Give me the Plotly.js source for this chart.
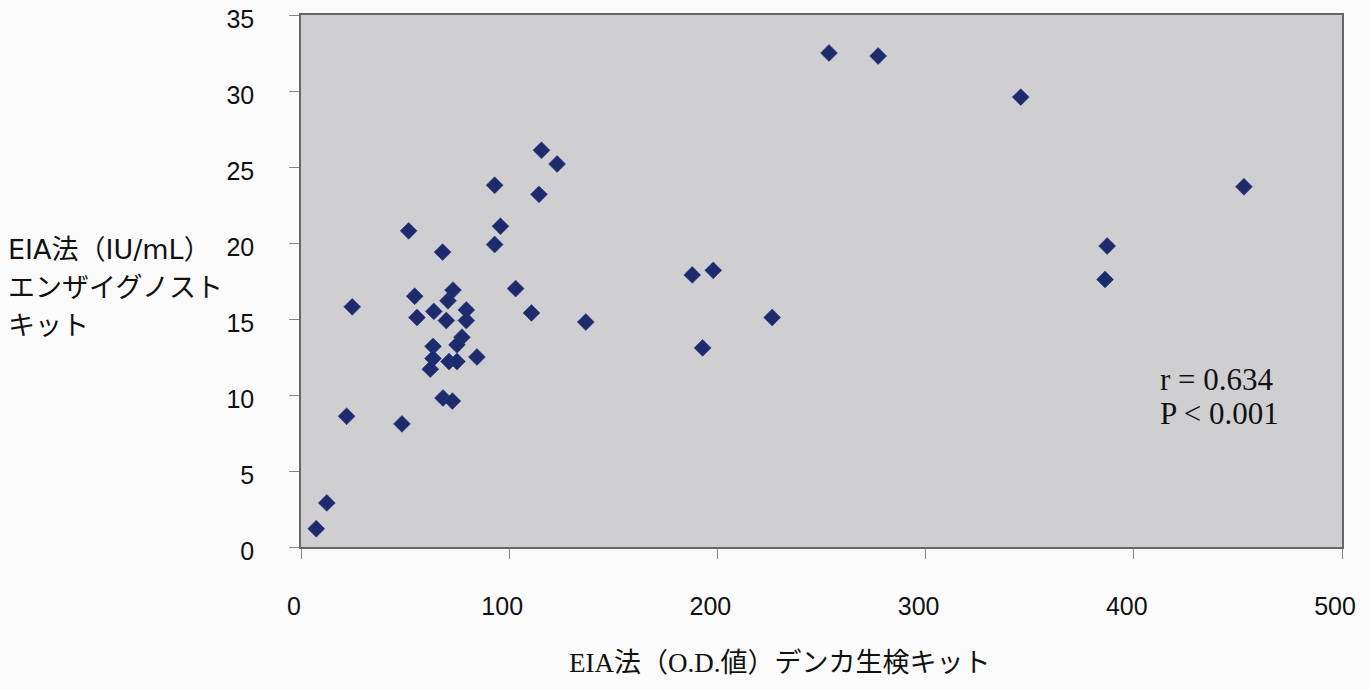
<!DOCTYPE html>
<html>
<head>
<meta charset="utf-8">
<script src="https://cdn.plot.ly/plotly-3.0.1.min.js"></script>
<style>
  html, body { margin: 0; padding: 0; background: #fcfbfb; }
  #chart { width: 1370px; height: 690px; }
</style>
</head>
<body>
<div id="chart"></div>
<script>
// EIA法 (O.D.値) デンカ生検キット
const denkaOD = [
  7.3, 12.4, 21.9, 48.5, 24.6, 51.7, 54.6, 55.7, 63.8, 69.8,
  68.0, 70.6, 73.0, 79.4, 79.4, 77.3, 74.9, 63.4, 63.4, 71.1,
  74.9, 84.5, 62.1, 68.2, 72.7, 93.0, 95.8, 93.0, 103.1, 110.7,
  114.3, 115.5, 123.0, 136.8, 187.9, 198.0, 192.9, 226.3, 253.6, 277.2,
  345.7, 452.9, 387.2, 386.2
];
// EIA法 (IU/mL) エンザイグノストキット
const enzygnostIU = [
  1.2, 2.9, 8.6, 8.1, 15.8, 20.8, 16.5, 15.1, 15.5, 14.9,
  19.4, 16.2, 16.9, 15.6, 14.9, 13.8, 13.3, 13.2, 12.4, 12.2,
  12.2, 12.5, 11.7, 9.8, 9.6, 23.8, 21.1, 19.9, 17.0, 15.4,
  23.2, 26.1, 25.2, 14.8, 17.9, 18.2, 13.1, 15.1, 32.5, 32.3,
  29.6, 23.7, 19.8, 17.6
];
const xTicks = [0, 100, 200, 300, 400, 500];
const yTicks = [0, 5, 10, 15, 20, 25, 30, 35];
const yTitleLines = ["EIA法（IU/mL）", "エンザイグノスト", "キット"];
const xTitle = "EIA法（O.D.値）デンカ生検キット";
const statLines = ["r = 0.634", "P < 0.001"];

const trace = {
  type: "scatter",
  mode: "markers",
  x: denkaOD,
  y: enzygnostIU,
  marker: {
    symbol: "diamond",
    size: 13,
    color: "#1d2b6c",
    line: { width: 0.6, color: "#2c3c86" }
  },
  hoverinfo: "x+y",
  showlegend: false
};

const cjk = "'DejaVu Sans', 'Noto Sans CJK JP', sans-serif";
const serifCjk = "'Liberation Serif', 'Noto Sans CJK JP', serif";
const tickFont = { family: "'Liberation Sans', Arial, sans-serif", size: 25, color: "#111" };

const yTitleY = [0.5588, 0.4872, 0.4157];
const annotations = [];
yTitleLines.forEach((t, i) => {
  annotations.push({
    text: t, xref: "paper", yref: "paper",
    x: -0.283, y: yTitleY[i], xanchor: "left", yanchor: "middle",
    showarrow: false, font: { family: cjk, size: 27, color: "#111" }
  });
});
annotations.push({
  text: xTitle, xref: "paper", yref: "paper",
  x: 0.46, y: -0.218, xanchor: "center", yanchor: "middle",
  showarrow: false, font: { family: serifCjk, size: 27, color: "#111" }
});
const statY = [0.314, 0.2518];
statLines.forEach((t, i) => {
  annotations.push({
    text: t, xref: "paper", yref: "paper",
    x: 0.8235, y: statY[i], xanchor: "left", yanchor: "middle",
    showarrow: false, font: { family: "'Liberation Serif', serif", size: 31, color: "#111" }
  });
});

const layout = {
  width: 1370,
  height: 690,
  margin: { l: 301, r: 28, t: 15, b: 143, pad: 0 },
  paper_bgcolor: "#fcfbfb",
  plot_bgcolor: "#cfcfd1",
  font: tickFont,
  xaxis: {
    range: [0, 500],
    tickvals: xTicks,
    ticktext: xTicks.map(String),
    showgrid: false,
    zeroline: false,
    showline: true,
    mirror: true,
    linecolor: "#666",
    linewidth: 1.5,
    ticks: "outside",
    ticklen: 10,
    tickcolor: "#888",
    tickwidth: 1,
    ticklabelstandoff: 26,
    ticklabelshift: -7,
    ticklabeloverflow: "allow",
    tickfont: tickFont
  },
  yaxis: {
    range: [0, 35],
    tickvals: yTicks,
    ticktext: yTicks.map(String),
    showgrid: false,
    zeroline: false,
    showline: true,
    mirror: true,
    linecolor: "#666",
    linewidth: 1.5,
    ticks: "outside",
    ticklen: 10,
    tickcolor: "#888",
    tickwidth: 1,
    ticklabelstandoff: 30,
    ticklabelshift: 4,
    ticklabeloverflow: "allow",
    tickfont: tickFont
  },
  annotations: annotations
};

Plotly.newPlot("chart", [trace], layout, { displayModeBar: false });
</script>
</body>
</html>
